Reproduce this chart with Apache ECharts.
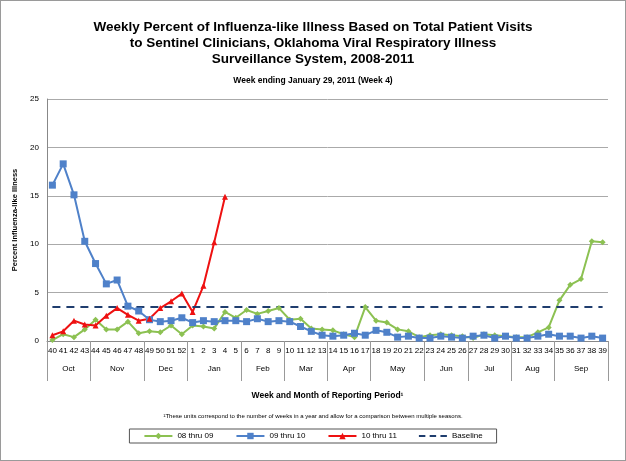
<!DOCTYPE html>
<html><head><meta charset="utf-8">
<script src="https://cdn.jsdelivr.net/npm/echarts@6/dist/echarts.min.js"></script>
<style>html,body{margin:0;padding:0;background:#fff}#c{width:624px;height:459px;border:1px solid #9a9a9a}</style>
</head><body><div id="c"></div>
<script>
const weeks = ['40','41','42','43','44','45','46','47','48','49','50','51','52','1','2','3','4','5','6','7','8','9','10','11','12','13','14','15','16','17','18','19','20','21','22','23','24','25','26','27','28','29','30','31','32','33','34','35','36','37','38','39'];
const months = ['Oct','Nov','Dec','Jan','Feb','Mar','Apr','May','Jun','Jul','Aug','Sep'];
const monthWeeks = [4,5,4,5,4,4,4,5,4,4,4,5];
const s0809 = [0.1,0.7,0.4,1.2,2.2,1.2,1.2,2.0,0.8,1.0,0.9,1.6,0.7,1.6,1.5,1.3,3.0,2.4,3.2,2.8,3.1,3.4,2.2,2.3,1.3,1.2,1.1,0.7,0.4,3.5,2.1,1.9,1.2,1.0,0.4,0.6,0.7,0.6,0.5,0.3,0.7,0.6,0.5,0.4,0.4,0.9,1.4,4.2,5.8,6.4,10.3,10.2];
const s0910 = [16.1,18.3,15.1,10.3,8.0,5.9,6.3,3.6,3.1,2.2,2.0,2.1,2.4,1.9,2.1,2.0,2.1,2.1,2.0,2.3,2.0,2.1,2.0,1.5,1.0,0.6,0.5,0.6,0.8,0.6,1.1,0.9,0.4,0.5,0.3,0.3,0.5,0.4,0.3,0.5,0.6,0.3,0.5,0.3,0.3,0.5,0.7,0.5,0.5,0.3,0.5,0.3];
const s1011 = [0.6,1.0,2.1,1.7,1.6,2.6,3.4,2.7,2.1,2.3,3.4,4.1,4.9,3.0,5.7,10.2,14.9];
const baseline = 3.5;

// month axis: half-week slots, labels at group centres, ticks at group edges
const slots = [], labelAt = {}, edges = new Set([0]);
let s = 0;
monthWeeks.forEach((c, i) => { labelAt[2 * s + c] = months[i]; s += c; edges.add(2 * s); });
for (let i = 0; i <= 2 * weeks.length; i++) slots.push(labelAt[i] || '');

const chart = echarts.init(document.getElementById('c'));
const font = 'Arial, "Liberation Sans", sans-serif';
chart.setOption({
  animation: false,
  textStyle: { fontFamily: font },
  title: [
    { text: 'Weekly Percent of Influenza-like Illness Based on Total Patient Visits\nto Sentinel Clinicians, Oklahoma Viral Respiratory Illness\nSurveillance System, 2008-2011',
      left: 'center', top: 13, textStyle: { fontSize: 13.5, fontWeight: 'bold', lineHeight: 16, color: '#000' } },
    { text: 'Week ending January 29, 2011 (Week 4)', left: 'center', top: 70, textStyle: { fontSize: 8.5, fontWeight: 'bold', color: '#000' } },
    { text: '¹These units correspond to the number of weeks in a year and allow for a comparison between multiple seasons.', left: 'center', top: 407, textStyle: { fontSize: 6, fontWeight: 'normal', color: '#000' } }
  ],
  grid: { left: 46, right: 17, top: 98, bottom: 119 },
  legend: {
    bottom: 17, left: 'center', itemWidth: 28, itemHeight: 8, itemGap: 22,
    borderColor: '#555', borderWidth: 1, padding: [3, 14],
    textStyle: { fontSize: 8, color: '#000' },
    data: ['08 thru 09', '09 thru 10', '10 thru 11',
      { name: 'Baseline', icon: 'path://M0,0h6v2h-6zM10,0h6v2h-6zM20,0h6v2h-6z' }]
  },
  xAxis: [
    { type: 'category', data: weeks, name: 'Week and Month of Reporting Period¹', nameLocation: 'middle', nameGap: 50,
      nameTextStyle: { fontSize: 8.5, fontWeight: 'bold', color: '#000' },
      axisLine: { lineStyle: { color: '#888' } }, axisTick: { show: false },
      axisLabel: { interval: 0, fontSize: 8, color: '#000', margin: 6 } },
    { type: 'category', data: slots, boundaryGap: false, position: 'bottom',
      axisLine: { show: false },
      axisTick: { show: true, length: 40, interval: i => edges.has(i), lineStyle: { color: '#999' } },
      axisLabel: { interval: i => !!labelAt[i], fontSize: 8, color: '#000', margin: 24 } }
  ],
  yAxis: {
    type: 'value', min: 0, max: 25, interval: 5, name: 'Percent Influenza-like Illness', nameLocation: 'middle', nameGap: 24,
    nameTextStyle: { fontSize: 7.5, fontWeight: 'bold', color: '#000' },
    axisLine: { show: true, lineStyle: { color: '#888' } },
    axisLabel: { fontSize: 8, color: '#000' },
    splitLine: { lineStyle: { color: '#aaa' } }
  },
  series: [
    { name: '08 thru 09', type: 'line', data: s0809, symbol: 'diamond', symbolSize: 6,
      itemStyle: { color: '#8cc152' }, lineStyle: { width: 2 } },
    { name: '09 thru 10', type: 'line', data: s0910, symbol: 'rect', symbolSize: 7,
      itemStyle: { color: '#4f81c9' }, lineStyle: { width: 2 } },
    { name: '10 thru 11', type: 'line', data: s1011, symbol: 'triangle', symbolSize: 6,
      itemStyle: { color: '#ee1111' }, lineStyle: { width: 2 } },
    { name: 'Baseline', type: 'line', data: weeks.map(() => baseline), symbol: 'none',
      itemStyle: { color: '#1f3d6e' }, lineStyle: { width: 2, type: [8, 6] } }
  ]
});
</script></body></html>
